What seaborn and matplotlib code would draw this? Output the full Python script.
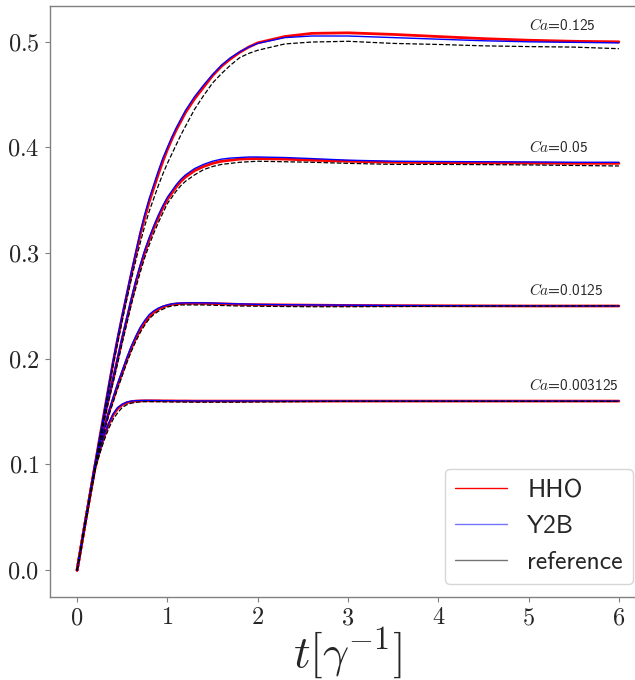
import numpy as np
import pandas as pd
import matplotlib
matplotlib.use("Agg")
import matplotlib.pyplot as plt
from matplotlib.lines import Line2D
import seaborn as sns

# ---- data ----
t = [0, 0.1, 0.2, 0.25, 0.3, 0.35, 0.4, 0.45, 0.5, 0.55, 0.6, 0.65, 0.7, 0.75, 0.8, 0.85,
     0.9, 0.95, 1.0, 1.05, 1.1, 1.15, 1.2, 1.3, 1.4, 1.5, 1.6, 1.7, 1.8, 1.9, 2.0,
     2.3, 2.6, 3.0, 3.5, 4.0, 4.5, 5.0, 5.5, 6.0]

ca_labels = ["0.003125", "0.0125", "0.05", "0.125"]

hho_0003125 = [0, 0.050, 0.097, 0.113, 0.127, 0.138, 0.147, 0.153, 0.1565, 0.1585, 0.1595, 0.160,
               0.1602, 0.1603, 0.1603, 0.1603, 0.1603, 0.1602, 0.1602, 0.1602, 0.1601, 0.1601, 0.1601,
               0.160, 0.160, 0.160, 0.160, 0.160, 0.160, 0.160, 0.160,
               0.160, 0.160, 0.160, 0.160, 0.160, 0.160, 0.160, 0.160, 0.160]
y2b_0003125 = [0, 0.050, 0.098, 0.114, 0.128, 0.139, 0.148, 0.154, 0.157, 0.159, 0.160, 0.1604,
               0.1605, 0.1606, 0.1606, 0.1605, 0.1605, 0.1604, 0.1604, 0.1603, 0.1603, 0.1602, 0.1602,
               0.1601, 0.1601, 0.1601, 0.1601, 0.1601, 0.1601, 0.1601, 0.1601,
               0.160, 0.160, 0.160, 0.160, 0.160, 0.160, 0.160, 0.160, 0.160]
ref_0003125 = [0, 0.049, 0.095, 0.110, 0.123, 0.134, 0.143, 0.149, 0.154, 0.1565, 0.158, 0.1588,
               0.1593, 0.1595, 0.1595, 0.1594, 0.1594, 0.1593, 0.1593, 0.1592, 0.1592, 0.1591, 0.1591,
               0.159, 0.159, 0.159, 0.159, 0.159, 0.159, 0.1591, 0.1592,
               0.1594, 0.1596, 0.1598, 0.1598, 0.1598, 0.1598, 0.1598, 0.1598, 0.1598]

hho_00125 = [0, 0.050, 0.099, 0.118, 0.134, 0.149, 0.162, 0.175, 0.187, 0.199, 0.210, 0.2195,
             0.228, 0.2345, 0.240, 0.244, 0.247, 0.249, 0.2505, 0.2515, 0.252, 0.2523, 0.2525,
             0.2525, 0.2525, 0.2523, 0.252, 0.2518, 0.2515, 0.2513, 0.2512,
             0.251, 0.2508, 0.2505, 0.2503, 0.2502, 0.2501, 0.250, 0.250, 0.250]
y2b_00125 = [0, 0.050, 0.100, 0.119, 0.135, 0.150, 0.164, 0.177, 0.189, 0.201, 0.212, 0.2215,
             0.230, 0.2365, 0.242, 0.2455, 0.248, 0.2498, 0.251, 0.252, 0.2525, 0.2528, 0.253,
             0.253, 0.253, 0.2528, 0.2525, 0.2522, 0.252, 0.2518, 0.2515,
             0.2512, 0.251, 0.2508, 0.2505, 0.2503, 0.2502, 0.2501, 0.250, 0.250]
ref_00125 = [0, 0.049, 0.097, 0.115, 0.131, 0.146, 0.159, 0.172, 0.184, 0.196, 0.207, 0.2165,
             0.225, 0.232, 0.238, 0.242, 0.245, 0.247, 0.249, 0.250, 0.2505, 0.251, 0.251,
             0.251, 0.251, 0.2507, 0.2505, 0.2502, 0.250, 0.2499, 0.2498,
             0.2495, 0.2493, 0.2493, 0.2495, 0.2497, 0.2498, 0.2499, 0.250, 0.2502]

hho_005 = [0, 0.050, 0.099, 0.122, 0.144, 0.163, 0.181, 0.200, 0.219, 0.237, 0.255, 0.272,
           0.287, 0.301, 0.313, 0.324, 0.334, 0.343, 0.351, 0.357, 0.363, 0.368, 0.372,
           0.378, 0.382, 0.385, 0.387, 0.388, 0.389, 0.3893, 0.3895,
           0.389, 0.388, 0.387, 0.386, 0.3857, 0.3855, 0.3853, 0.385, 0.385]
y2b_005 = [0, 0.050, 0.100, 0.123, 0.145, 0.165, 0.183, 0.202, 0.221, 0.239, 0.257, 0.274,
           0.289, 0.303, 0.315, 0.326, 0.336, 0.345, 0.353, 0.359, 0.365, 0.370, 0.374,
           0.380, 0.384, 0.387, 0.389, 0.390, 0.3905, 0.391, 0.391,
           0.3905, 0.3895, 0.388, 0.387, 0.3867, 0.3865, 0.3863, 0.386, 0.386]
ref_005 = [0, 0.049, 0.097, 0.119, 0.141, 0.160, 0.178, 0.196, 0.215, 0.233, 0.251, 0.267,
           0.282, 0.296, 0.308, 0.319, 0.329, 0.338, 0.347, 0.353, 0.359, 0.364, 0.368,
           0.374, 0.379, 0.382, 0.384, 0.385, 0.386, 0.3865, 0.387,
           0.3865, 0.386, 0.385, 0.384, 0.384, 0.3838, 0.3835, 0.383, 0.3825]

hho_0125 = [0, 0.050, 0.100, 0.125, 0.149, 0.173, 0.197, 0.219, 0.240, 0.260, 0.280, 0.299,
            0.318, 0.334, 0.349, 0.362, 0.375, 0.387, 0.398, 0.408, 0.417, 0.425, 0.433,
            0.446, 0.457, 0.468, 0.477, 0.484, 0.490, 0.495, 0.499,
            0.505, 0.508, 0.5085, 0.507, 0.505, 0.503, 0.5015, 0.5005, 0.500]
y2b_0125 = [0, 0.050, 0.101, 0.126, 0.150, 0.175, 0.199, 0.221, 0.242, 0.262, 0.282, 0.301,
            0.320, 0.337, 0.352, 0.365, 0.378, 0.390, 0.400, 0.410, 0.419, 0.427, 0.435,
            0.448, 0.459, 0.469, 0.478, 0.485, 0.4905, 0.495, 0.4985,
            0.504, 0.5055, 0.5055, 0.504, 0.5025, 0.501, 0.500, 0.4995, 0.499]
ref_0125 = [0, 0.049, 0.098, 0.123, 0.147, 0.171, 0.194, 0.215, 0.236, 0.256, 0.275, 0.293,
            0.310, 0.326, 0.340, 0.352, 0.364, 0.375, 0.385, 0.394, 0.403, 0.412, 0.420,
            0.436, 0.449, 0.461, 0.470, 0.478, 0.485, 0.489, 0.492,
            0.498, 0.4998, 0.5005, 0.4985, 0.4975, 0.4962, 0.4955, 0.495, 0.4935]

hho = [hho_0003125, hho_00125, hho_005, hho_0125]
y2b = [y2b_0003125, y2b_00125, y2b_005, y2b_0125]
ref = [ref_0003125, ref_00125, ref_005, ref_0125]

legend_labels = ["HHO", "Y2B", "reference"]
xticks = [0, 1, 2, 3, 4, 5, 6]
yticks = [0.0, 0.1, 0.2, 0.3, 0.4, 0.5]
xticklabels = ["0", "1", "2", "3", "4", "5", "6"]
yticklabels = ["0.0", "0.1", "0.2", "0.3", "0.4", "0.5"]

# ---- style ----
sns.set_style("white")
plt.rcParams["font.family"] = ["cmss10", "DejaVu Sans"]
plt.rcParams["mathtext.fontset"] = "cm"
plt.rcParams["axes.unicode_minus"] = False
plt.rcParams["axes.edgecolor"] = "0.5"
plt.rcParams["axes.linewidth"] = 1.0

fig = plt.figure(figsize=(6.35, 6.8), dpi=100)
ax = fig.add_axes([50 / 635, (680 - 597) / 680, 596 / 635, 591 / 680])

for i in range(len(ca_labels)):
    sns.lineplot(x=t, y=hho[i], ax=ax, color="red", lw=2.0, legend=False, zorder=2)
    sns.lineplot(x=t, y=y2b[i], ax=ax, color="blue", lw=1.0, legend=False, zorder=3)
    sns.lineplot(x=t, y=ref[i], ax=ax, color="black", lw=0.9, ls="--", legend=False, zorder=4)
    ax.text(5.0, hho[i][-1] + 0.0155, r"$Ca$=" + ca_labels[i], fontsize=11,
            ha="left", va="center")

ax.set_xlim(-0.3, 6.3)
ax.set_ylim(-0.0254, 0.5339)
ax.set_xticks(xticks)
ax.set_xticklabels(["$" + s + "$" for s in xticklabels])
ax.set_yticks(yticks)
ax.set_yticklabels(["$" + s + "$" for s in yticklabels])
ax.tick_params(axis="both", which="major", labelsize=17.5, length=3.5, width=0.8,
               color="0.5", direction="out", bottom=True, left=True, pad=4)
ax.set_xlabel(r"$t[\gamma^{-1}]$", fontsize=33, labelpad=-3)
ax.set_ylabel("")

handles = [Line2D([], [], color="red", lw=1.0),
           Line2D([], [], color="blue", lw=1.0, alpha=0.55),
           Line2D([], [], color="black", lw=1.0, alpha=0.55)]
ax.legend(handles, legend_labels, loc="lower right", fontsize=18.5, frameon=True)

fig.savefig("out.png", dpi=100)
